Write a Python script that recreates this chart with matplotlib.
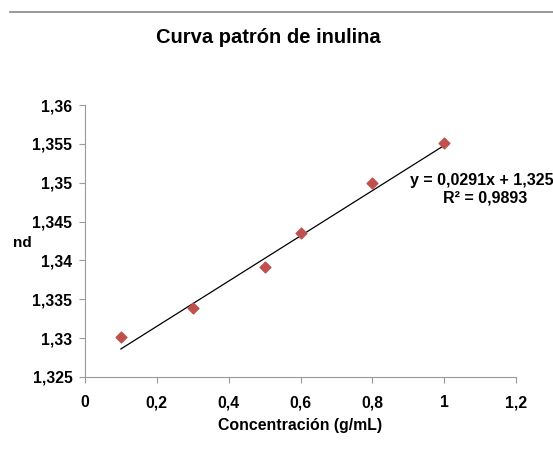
import numpy as np
import matplotlib.pyplot as plt
from matplotlib.lines import Line2D

plt.rcParams['font.family'] = ['Liberation Sans', 'DejaVu Sans']

# Data
conc = [0.1, 0.3, 0.5, 0.6, 0.8, 1.0]
nd = [1.3302, 1.3339, 1.3391, 1.3435, 1.3499, 1.3551]
slope, intercept = 0.0291, 1.3257
xticks = [0, 0.2, 0.4, 0.6, 0.8, 1, 1.2]
yticks = [1.325, 1.33, 1.335, 1.34, 1.345, 1.35, 1.355, 1.36]

fig = plt.figure(figsize=(5.53, 4.62), dpi=100)
ax = fig.add_axes([0.1537, 0.184, 0.7794, 0.5887])

ax.scatter(conc, nd, marker='D', s=30, color='#C0504D', zorder=3)
xl = np.array([conc[0], conc[-1]])
ax.plot(xl, slope * xl + intercept, color='black', lw=0.9, zorder=2)

ax.set_xlim(0, 1.2)
ax.set_ylim(1.325, 1.36)
ax.set_xticks(xticks)
ax.set_yticks(yticks)
ax.set_xticklabels([f"{t:g}".replace('.', ',') for t in xticks], fontweight='bold', fontsize=11.3)
ax.set_yticklabels([f"{t:g}".replace('.', ',') for t in yticks], fontweight='bold', fontsize=11.3)

for side in ['top', 'right']:
    ax.spines[side].set_visible(False)
for side in ['left', 'bottom']:
    ax.spines[side].set_color('#999999')
ax.tick_params(direction='out', length=4, color='#999999', pad=5)
ax.tick_params(axis='x', pad=9)

ax.set_xlabel('Concentración (g/mL)', fontweight='bold', fontsize=11.4, labelpad=6)
fig.text(0.04, 0.473, 'nd', fontweight='bold', fontsize=11, va='center', ha='center')

fig.text(0.485, 0.918, 'Curva patrón de inulina', fontweight='bold', fontsize=14.5,
         ha='center', va='center')

fig.text(0.741, 0.61, 'y = 0,0291x + 1,3257', fontweight='bold', fontsize=11.5,
         ha='left', va='center')
fig.text(0.877, 0.572, 'R² = 0,9893', fontweight='bold', fontsize=11.5,
         ha='center', va='center')

fig.add_artist(Line2D([0.018, 1.0], [0.974, 0.974], color='#888888', lw=1.2))

fig.savefig('out.png', dpi=100)
